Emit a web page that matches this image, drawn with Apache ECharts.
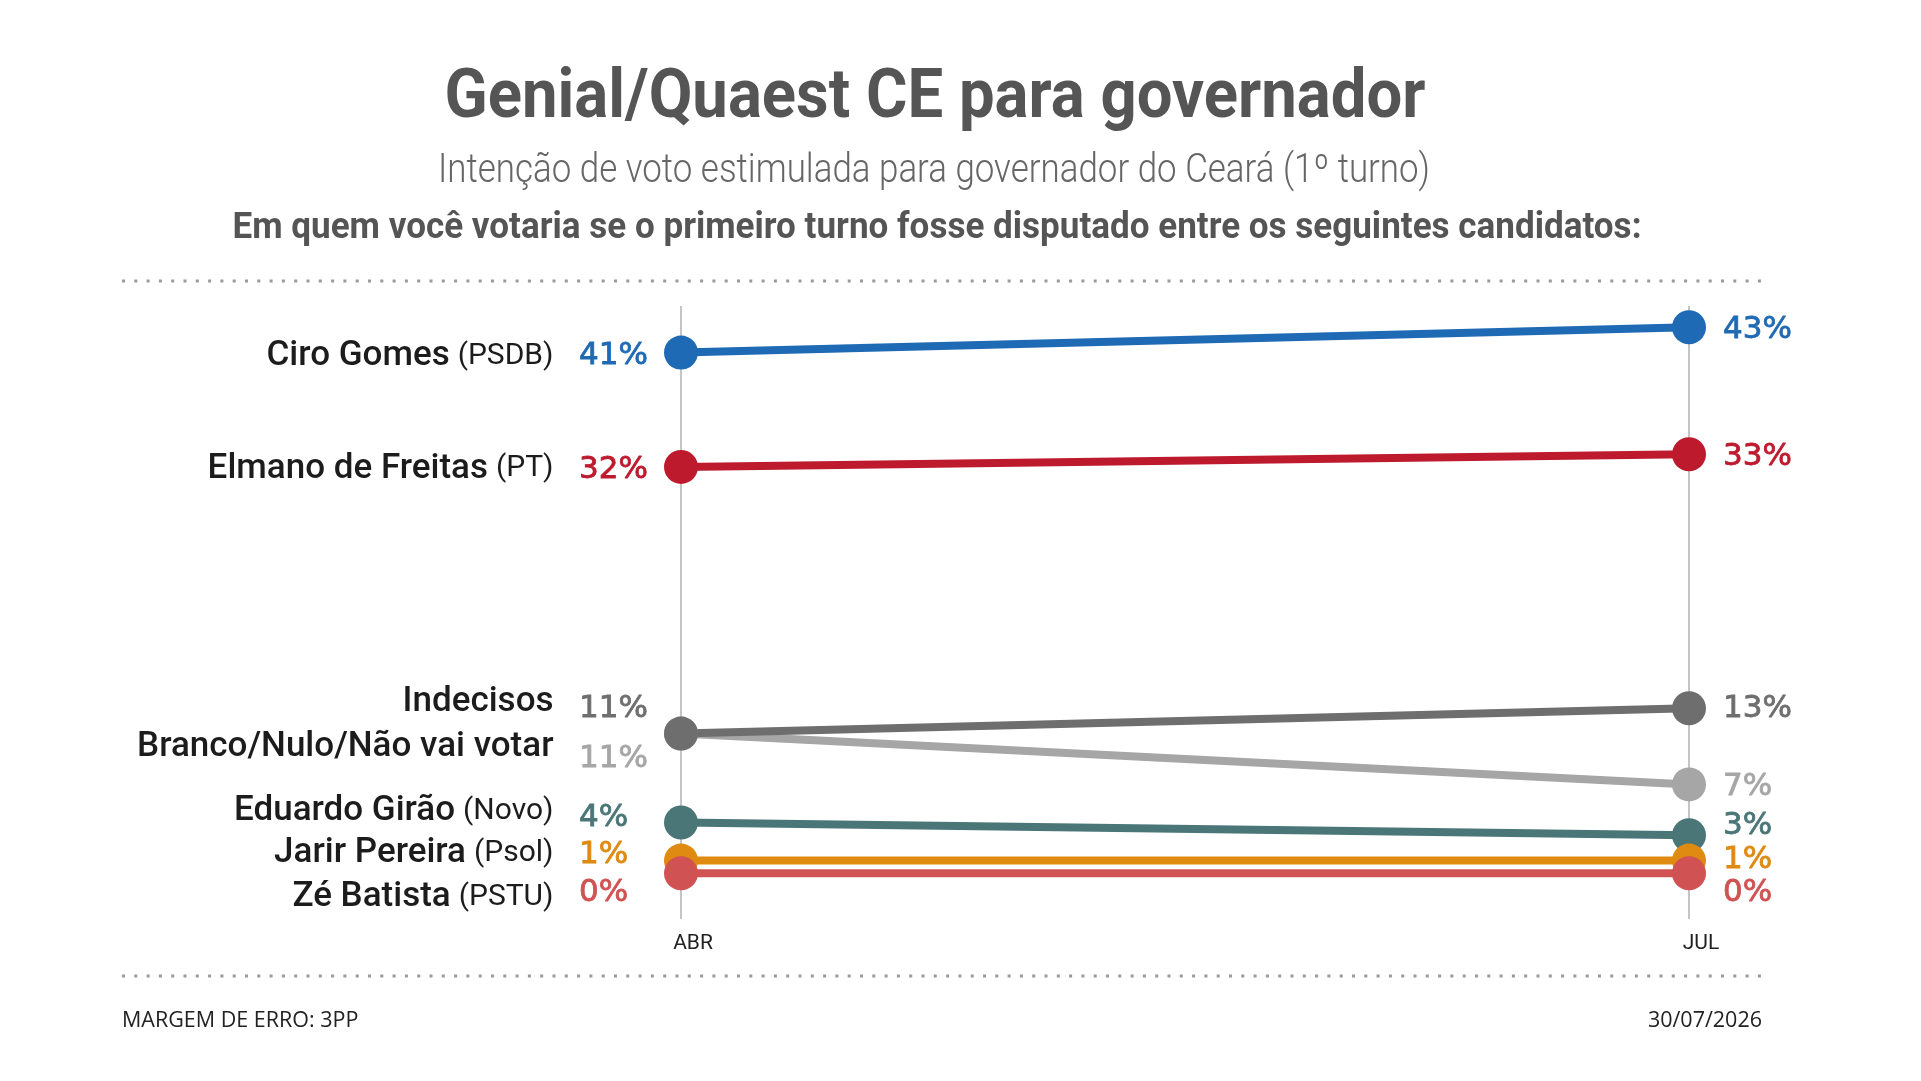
<!DOCTYPE html>
<html>
<head>
<meta charset="utf-8">
<title>Genial/Quaest CE para governador</title>
<script src="https://cdn.jsdelivr.net/npm/echarts@6/dist/echarts.min.js"></script>
<style>
  html, body { margin: 0; padding: 0; background: #fff; }
  #chart { width: 1921px; height: 1081px; }
</style>
</head>
<body>
<div id="chart"></div>
<script>
// dados da pesquisa
const periods = ['ABR', 'JUL'];
const names = ['Ciro Gomes', 'Elmano de Freitas', 'Branco/Nulo/Não vai votar', 'Indecisos', 'Eduardo Girão', 'Jarir Pereira', 'Zé Batista'];
const parties = ['PSDB', 'PT', '', '', 'Novo', 'Psol', 'PSTU'];
const abrValues = [41, 32, 11, 11, 4, 1, 0];
const julValues = [43, 33, 7, 13, 3, 1, 0];

// estilos (cores e deslocamentos dos rótulos, em px)
const colors = ['#1f6ab4', '#be1a2e', '#a6a6a6', '#6e6e6e', '#4a7678', '#df8a10', '#d05252'];
const leftLabelDy = [3, 3, 25, -25, -5, -6, 20];
const rightLabelDy = [3, 3, 3, 1, -9, -1, 20];
const nameDy = [4, 2, 14, -31, -11, -7, 24];

const titleText = 'Genial/Quaest CE para governador';
const subtitleText = 'Intenção de voto estimulada para governador do Ceará (1º turno)';
const questionText = 'Em quem você votaria se o primeiro turno fosse disputado entre os seguintes candidatos:';

// largura alvo -> escala horizontal (imita fonte condensada)
function fitScale(text, font, target) {
  const ctx = document.createElement('canvas').getContext('2d');
  ctx.font = font;
  return target / ctx.measureText(text).width;
}

const titleFont = 'bold 68px Roboto';
const subFont = '300 40px Roboto';
const questionFont = 'bold 37px Roboto';

const valueStyle = { fontFamily: 'DejaVu Sans', fontWeight: 'normal', fontSize: 31 };

const series = names.map((name, i) => ({
  name: name,
  type: 'line',
  data: [
    {
      value: abrValues[i],
      label: {
        show: true,
        position: [-85, 17 + leftLabelDy[i]],
        align: 'left',
        verticalAlign: 'middle',
        formatter: abrValues[i] + '%',
        color: colors[i],
        textBorderColor: colors[i],
        textBorderWidth: 0.8,
        ...valueStyle
      }
    },
    {
      value: julValues[i],
      label: {
        show: true,
        position: 'right',
        distance: 17,
        offset: [0, rightLabelDy[i]],
        formatter: julValues[i] + '%',
        color: colors[i],
        textBorderColor: colors[i],
        textBorderWidth: 0.8,
        ...valueStyle
      }
    }
  ],
  symbol: 'circle',
  symbolSize: 34,
  showSymbol: true,
  itemStyle: { color: colors[i] },
  lineStyle: { color: colors[i], width: 8 },
  emphasis: { disabled: true },
  markPoint: {
    symbol: 'circle',
    symbolSize: 1,
    itemStyle: { color: 'rgba(0,0,0,0)' },
    silent: true,
    data: [{
      coord: [periods[0], abrValues[i]],
      label: {
        show: true,
        position: 'left',
        distance: 127,
        offset: [0, nameDy[i]],
        formatter: parties[i] ? '{n|' + name + '}{p|(' + parties[i] + ')}' : '{n|' + name + '}',
        rich: {
          n: { fontFamily: 'Roboto', fontWeight: 500, fontSize: 35, color: '#1c1c1c' },
          p: { fontFamily: 'Roboto', fontWeight: 400, fontSize: 30, color: '#1c1c1c', padding: [0, 0, 0, 8] }
        }
      }
    }]
  }
}));

const chart = echarts.init(document.getElementById('chart'));

chart.setOption({
  animation: false,
  backgroundColor: '#ffffff',
  grid: { left: 681, right: 232, top: 306, bottom: 162 },
  xAxis: {
    type: 'category',
    data: periods,
    boundaryGap: false,
    axisLine: { show: false },
    axisTick: { show: false },
    splitLine: { show: true, lineStyle: { color: '#b2b2b2', width: 1.5 } },
    axisLabel: {
      margin: 14,
      padding: [0, 0, 0, 24],
      fontFamily: 'Roboto',
      fontSize: 21,
      color: '#222'
    }
  },
  yAxis: {
    type: 'value',
    min: -3.6,
    max: 44.67,
    show: false
  },
  graphic: [
    {
      type: 'text', x: 935, y: 100, scaleX: fitScale(titleText, titleFont, 981),
      style: { text: titleText, font: titleFont, fill: '#555', textAlign: 'center', textVerticalAlign: 'middle' }
    },
    {
      type: 'text', x: 934, y: 172, scaleX: fitScale(subtitleText, subFont, 992),
      style: { text: subtitleText, font: subFont, fill: '#666', textAlign: 'center', textVerticalAlign: 'middle' }
    },
    {
      type: 'text', x: 937, y: 229, scaleX: fitScale(questionText, questionFont, 1409),
      style: { text: questionText, font: questionFont, fill: '#555', textAlign: 'center', textVerticalAlign: 'middle' }
    },
    {
      type: 'line', shape: { x1: 122, y1: 281, x2: 1762, y2: 281 },
      style: { stroke: '#9a9a9a', lineWidth: 3, lineDash: [3, 9.3] }
    },
    {
      type: 'line', shape: { x1: 122, y1: 976, x2: 1762, y2: 976 },
      style: { stroke: '#9a9a9a', lineWidth: 3, lineDash: [3, 9.3] }
    },
    {
      type: 'text', x: 122, y: 1021,
      style: { text: 'MARGEM DE ERRO: 3PP', font: '21.5px "Open Sans"', fill: '#222', textAlign: 'left', textVerticalAlign: 'middle' }
    },
    {
      type: 'text', x: 1762, y: 1021,
      style: { text: '30/07/2026', font: '21.5px "Open Sans"', fill: '#222', textAlign: 'right', textVerticalAlign: 'middle' }
    }
  ],
  series: series
});
</script>
</body>
</html>
